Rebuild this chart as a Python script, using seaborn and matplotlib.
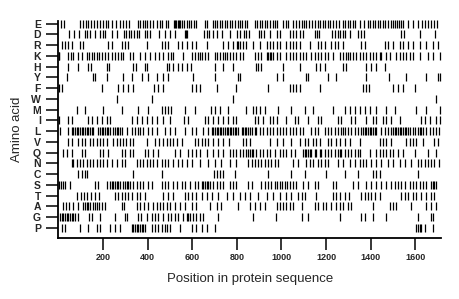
import pandas as pd
import numpy as np
import matplotlib
matplotlib.use('Agg')
import matplotlib.pyplot as plt
import seaborn as sns

# Positions of each amino acid in the sequence
aa_order = ['E', 'D', 'R', 'K', 'H', 'Y', 'F', 'W', 'M', 'I',
            'L', 'V', 'Q', 'N', 'C', 'S', 'T', 'A', 'G', 'P']

pos_E = [12, 27, 97, 109, 122, 134, 146, 160, 172, 187, 199, 212, 224, 242, 259, 276, 291, 302, 317,
         356, 366, 377, 386, 398, 411, 426, 441, 456, 466, 481, 493, 516, 522, 528, 534, 540, 546, 553,
         565, 577, 586, 596, 607, 619, 656, 667, 694, 704, 713, 724, 734, 746, 756, 768, 780, 791, 803,
         813, 825, 836, 846, 881, 891, 903, 915, 925, 937, 948, 960, 970, 982, 1008, 1020, 1030, 1053,
         1067, 1079, 1090, 1100, 1112, 1124, 1135, 1151, 1163, 1175, 1185, 1196, 1208, 1218, 1230, 1245,
         1256, 1275, 1286, 1298, 1309, 1320, 1330, 1350, 1369, 1387, 1399, 1410, 1420, 1432, 1444, 1455,
         1465, 1477, 1489, 1499, 1510, 1520, 1529, 1538, 1545, 1566, 1590, 1612, 1630, 1642, 1656, 1671,
         1686, 1698]
pos_D = [48, 70, 93, 117, 128, 140, 165, 188, 198, 210, 240, 263, 293, 303, 315, 327, 339, 351, 363,
         387, 399, 411, 450, 478, 500, 522, 566, 572, 578, 652, 664, 676, 691, 709, 735, 768, 801, 813,
         831, 843, 855, 900, 910, 922, 948, 981, 993, 1040, 1052, 1067, 1085, 1097, 1151, 1160, 1170,
         1226, 1241, 1252, 1263, 1275, 1286, 1309, 1342, 1355, 1372, 1537, 1549, 1619, 1689]
pos_R = [15, 30, 45, 60, 97, 112, 224, 239, 284, 299, 313, 396, 463, 478, 493, 537, 552, 575, 597,
         619, 664, 739, 761, 784, 799, 806, 813, 828, 843, 873, 903, 933, 948, 963, 978, 993, 1022,
         1037, 1052, 1067, 1082, 1127, 1164, 1179, 1194, 1224, 1239, 1254, 1276, 1358, 1373, 1463,
         1478, 1500, 1530, 1545, 1567, 1590, 1619, 1649, 1679, 1701]
pos_K = [2, 4, 45, 55, 67, 90, 104, 127, 139, 149, 160, 172, 184, 194, 209, 224, 239, 254, 269, 279,
         291, 321, 336, 366, 388, 410, 433, 452, 470, 493, 503, 515, 560, 597, 612, 627, 634, 646, 657,
         672, 701, 712, 724, 736, 746, 757, 769, 784, 798, 813, 828, 881, 896, 910, 933, 940, 948, 955,
         963, 978, 993, 1022, 1037, 1052, 1067, 1082, 1097, 1112, 1134, 1149, 1164, 1179, 1194, 1209,
         1231, 1261, 1276, 1291, 1298, 1306, 1321, 1336, 1351, 1366, 1381, 1396, 1410, 1425, 1440,
         1448, 1470, 1485, 1515, 1530, 1545, 1560, 1575, 1590, 1619, 1657, 1679, 1709]
pos_H = [45, 90, 134, 145, 216, 227, 336, 348, 388, 399, 485, 497, 515, 537, 552, 575, 593, 701, 739,
         784, 885, 896, 910, 1007, 1082, 1157, 1175, 1194, 1276, 1291, 1381, 1403, 1425, 1463]
pos_Y = [37, 154, 164, 219, 291, 328, 373, 403, 440, 470, 493, 604, 701, 806, 816, 978, 1007, 1112,
         1119, 1208, 1245, 1380, 1480, 1559, 1649, 1701, 1709]
pos_F = [4, 15, 194, 269, 291, 313, 336, 428, 448, 470, 597, 619, 634, 709, 798, 940, 1037, 1052,
         1067, 1082, 1172, 1366, 1381, 1393, 1500, 1522, 1545, 1597]
pos_W = [261, 418, 784, 1694]
pos_M = [82, 119, 199, 284, 358, 403, 463, 478, 493, 507, 567, 612, 682, 701, 724, 761, 843, 873,
         888, 903, 925, 985, 1045, 1105, 1142, 1231, 1284, 1306, 1328, 1351, 1373, 1396, 1425, 1470,
         1507, 1604, 1649, 1709]
pos_I = [4, 45, 60, 134, 149, 172, 194, 216, 231, 328, 351, 373, 396, 418, 440, 470, 500, 564, 582,
         657, 672, 694, 716, 739, 761, 784, 798, 881, 896, 918, 948, 963, 978, 1022, 1060, 1075, 1119,
         1164, 1179, 1254, 1269, 1313, 1328, 1381, 1410, 1425, 1455, 1470, 1493, 1530, 1627, 1642,
         1664, 1694, 1709]
pos_L = [7, 45, 60, 67, 75, 82, 90, 97, 104, 112, 119, 127, 134, 142, 149, 157, 179, 187, 194, 201,
         209, 216, 224, 231, 246, 254, 261, 269, 276, 284, 306, 328, 343, 358, 366, 381, 403, 418, 440,
         478, 500, 522, 567, 597, 619, 649, 672, 687, 694, 701, 709, 716, 724, 731, 739, 746, 754, 761,
         769, 776, 784, 791, 798, 806, 821, 828, 836, 843, 851, 858, 866, 881, 888, 903, 918, 933, 948,
         963, 978, 993, 1007, 1022, 1037, 1052, 1067, 1082, 1097, 1134, 1149, 1164, 1194, 1209, 1224,
         1239, 1254, 1269, 1276, 1284, 1298, 1313, 1328, 1343, 1358, 1366, 1373, 1381, 1388, 1396,
         1403, 1410, 1418, 1425, 1448, 1463, 1478, 1493, 1500, 1507, 1515, 1522, 1530, 1537, 1545,
         1552, 1560, 1567, 1575, 1590, 1597, 1612, 1619, 1627, 1634, 1649, 1664, 1679, 1694, 1706]
pos_V = [45, 60, 90, 104, 119, 142, 154, 172, 187, 201, 216, 246, 261, 276, 291, 303, 321, 333, 396,
         433, 452, 470, 485, 500, 515, 530, 552, 612, 627, 642, 657, 672, 694, 716, 739, 766, 828, 843,
         858, 948, 978, 1007, 1045, 1082, 1104, 1119, 1142, 1157, 1172, 1209, 1224, 1246, 1261, 1284,
         1306, 1351, 1440, 1455, 1470, 1493, 1560, 1575, 1590, 1604, 1634, 1686, 1701]
pos_Q = [19, 37, 60, 104, 119, 187, 201, 224, 284, 299, 321, 336, 388, 403, 425, 448, 522, 545, 582,
         597, 619, 634, 664, 694, 716, 739, 769, 784, 798, 813, 828, 843, 851, 858, 866, 873, 888, 903,
         918, 933, 948, 970, 993, 1007, 1022, 1045, 1060, 1097, 1104, 1112, 1119, 1127, 1134, 1149,
         1157, 1172, 1179, 1194, 1209, 1224, 1239, 1254, 1261, 1269, 1284, 1298, 1313, 1328, 1343,
         1351, 1396, 1425, 1440, 1455, 1470, 1485, 1500, 1522, 1545, 1597, 1657, 1694]
pos_N = [60, 67, 82, 97, 112, 127, 142, 157, 172, 187, 201, 219, 239, 261, 284, 299, 351, 366, 381,
         396, 410, 425, 440, 463, 478, 493, 515, 537, 552, 575, 601, 634, 672, 701, 731, 769, 798, 851,
         866, 881, 896, 910, 925, 940, 955, 970, 985, 1052, 1075, 1112, 1127, 1142, 1164, 1179, 1194,
         1209, 1254, 1276, 1306, 1328, 1351, 1366, 1381, 1403, 1425, 1448, 1478, 1500, 1530, 1552,
         1582, 1612, 1627, 1642, 1657, 1672, 1686, 1706]
pos_C = [90, 104, 119, 130, 336, 463, 697, 709, 724, 739, 791, 940, 1045, 1104, 1198, 1284, 1343,
         1410, 1425, 1440, 1612]
pos_S = [4, 10, 19, 30, 52, 164, 179, 216, 231, 239, 246, 254, 261, 269, 276, 288, 299, 306, 313, 321,
         336, 351, 366, 381, 403, 418, 463, 478, 493, 515, 530, 552, 567, 590, 612, 627, 642, 649, 657,
         664, 672, 679, 694, 709, 724, 736, 769, 784, 798, 851, 866, 910, 925, 940, 955, 970, 981, 993,
         1004, 1015, 1025, 1037, 1052, 1067, 1097, 1119, 1149, 1164, 1231, 1246, 1321, 1343, 1381,
         1403, 1425, 1448, 1470, 1493, 1507, 1522, 1537, 1552, 1575, 1590, 1604, 1619, 1634, 1649,
         1672, 1679, 1686, 1694]
pos_T = [85, 100, 115, 130, 145, 164, 184, 254, 269, 284, 299, 313, 328, 351, 366, 388, 470, 493, 515,
         567, 582, 597, 619, 642, 664, 687, 716, 754, 784, 813, 836, 858, 896, 933, 963, 993, 1022,
         1045, 1075, 1090, 1104, 1157, 1231, 1246, 1261, 1284, 1303, 1358, 1373, 1388, 1403, 1418,
         1440, 1537, 1552, 1567, 1590, 1604, 1627, 1649, 1672, 1686]
pos_A = [19, 34, 49, 67, 90, 112, 119, 127, 134, 142, 154, 164, 172, 184, 194, 209, 284, 294, 351,
         366, 384, 403, 422, 440, 455, 470, 485, 500, 522, 545, 567, 597, 619, 679, 709, 731, 806, 858,
         881, 903, 925, 978, 993, 1007, 1022, 1037, 1052, 1090, 1149, 1164, 1187, 1201, 1224, 1246,
         1261, 1276, 1298, 1313, 1410, 1485, 1500, 1515, 1582, 1649, 1672, 1694]
pos_G = [7, 15, 22, 30, 37, 45, 52, 60, 67, 75, 90, 139, 149, 187, 254, 299, 306, 358, 369, 396, 418,
         433, 448, 470, 493, 503, 522, 537, 560, 575, 582, 590, 604, 619, 634, 649, 716, 873, 975, 1090,
         1119, 1261, 1358, 1373, 1410, 1470, 1612, 1672, 1679]
pos_P = [15, 30, 97, 134, 172, 187, 231, 254, 276, 328, 336, 343, 351, 358, 366, 373, 381, 388, 418,
         433, 448, 463, 478, 488, 500, 545, 597, 619, 642, 664, 701, 1604, 1612, 1619, 1627, 1642, 1679]

seq_length = 1716
x_ticks = [200, 400, 600, 800, 1000, 1200, 1400, 1600]

positions = {'E': pos_E, 'D': pos_D, 'R': pos_R, 'K': pos_K, 'H': pos_H, 'Y': pos_Y, 'F': pos_F,
             'W': pos_W, 'M': pos_M, 'I': pos_I, 'L': pos_L, 'V': pos_V, 'Q': pos_Q, 'N': pos_N,
             'C': pos_C, 'S': pos_S, 'T': pos_T, 'A': pos_A, 'G': pos_G, 'P': pos_P}

rows = [(aa, p) for aa in aa_order for p in positions[aa]]
df = pd.DataFrame(rows, columns=['aa', 'pos'])

sns.set_style('ticks')
plt.rcParams['font.family'] = ['Liberation Sans', 'DejaVu Sans']

fig = plt.figure(figsize=(4.6, 2.99), dpi=100)
ax = fig.add_axes([0.127, 0.204, 0.832, 0.726])

# one short vertical mark per residue
sns.stripplot(data=df, x='pos', y='aa', order=aa_order, jitter=False, marker='|',
              size=5.2, color='black', edgecolor='black', linewidth=0.9, ax=ax)
for c in ax.collections:
    c.set_clip_on(False)

ax.set_xlim(0, seq_length)
ax.set_ylim(len(aa_order) - 0.07, -0.25)
ax.set_xticks(x_ticks)
ax.set_xticklabels([str(t) for t in x_ticks], fontsize=6.5, fontweight='bold')
ax.set_yticklabels(aa_order, fontsize=7.5, fontweight='bold')
ax.tick_params(axis='both', direction='out', length=8.5, width=1.1, color='black', pad=2)
ax.tick_params(axis='y', pad=4)

for side in ['top', 'right']:
    ax.spines[side].set_visible(False)
for side in ['left', 'bottom']:
    ax.spines[side].set_linewidth(1.3)
    ax.spines[side].set_color('black')

ax.set_xlabel('Position in protein sequence', fontsize=9.5, labelpad=8)
ax.set_ylabel('Amino acid', fontsize=9.5, labelpad=6)

fig.savefig('out.png', dpi=100)
